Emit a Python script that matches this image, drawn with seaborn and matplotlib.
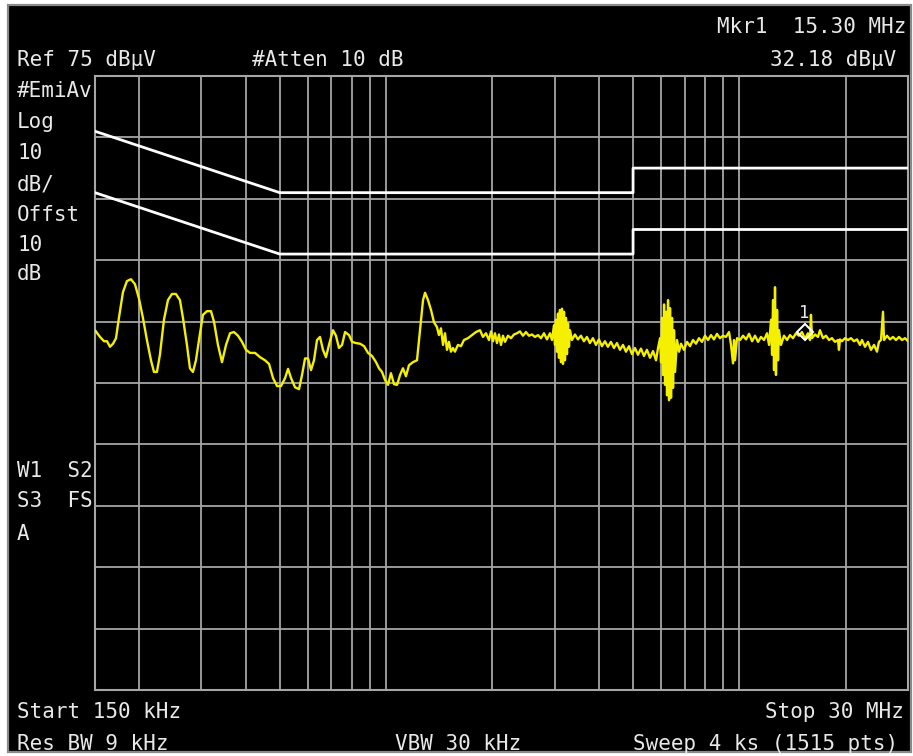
import matplotlib
matplotlib.use("Agg")
import matplotlib.pyplot as plt
import matplotlib.transforms as mtransforms
from matplotlib.patches import Rectangle
import numpy as np
import pandas as pd
import seaborn as sns

# ---------------- data ----------------
trace_freq_mhz = [
    0.150, 0.1550, 0.1591, 0.1622, 0.1654, 0.1687, 0.1720, 0.1753, 0.1800, 0.1847,
    0.1896, 0.1946, 0.1997, 0.2050, 0.2104, 0.2160, 0.2203, 0.2246, 0.2290, 0.2351,
    0.2413, 0.2477, 0.2542, 0.2609, 0.2661, 0.2731, 0.2785, 0.2840, 0.2896, 0.2954,
    0.3031, 0.3112, 0.3194, 0.3257, 0.3343, 0.3432, 0.3523, 0.3616, 0.3711, 0.3809,
    0.3910, 0.4013, 0.4119, 0.4257, 0.4398, 0.4543, 0.4663, 0.4786, 0.4913, 0.5042,
    0.5176, 0.5278, 0.5382, 0.5524, 0.5669, 0.5781, 0.5896, 0.6012, 0.6130, 0.6251,
    0.6375, 0.6499, 0.6627, 0.6758, 0.6891, 0.7074, 0.7213, 0.7356, 0.7505, 0.7653,
    0.7855, 0.8010, 0.8222, 0.8438, 0.8661, 0.8889, 0.9124, 0.9363, 0.9548, 0.9736,
    0.9929, 1.0125, 1.032, 1.053, 1.074, 1.095, 1.116, 1.138, 1.161, 1.192,
    1.223, 1.247, 1.272, 1.289, 1.314, 1.340, 1.366,
    1.393, 1.411, 1.430, 1.449, 1.468, 1.487, 1.506, 1.526, 1.546, 1.566,
    1.597, 1.629, 1.661, 1.705, 1.750, 1.796, 1.844, 1.880, 1.917, 1.955,
    1.981, 2.007, 2.033, 2.060, 2.087, 2.114, 2.142, 2.170, 2.213, 2.256,
    2.301, 2.346, 2.393, 2.440, 2.488, 2.537, 2.588, 2.639, 2.691, 2.744,
    2.798, 2.853, 2.909, 2.948, 2.986, 3.006, 3.025, 3.045, 3.065, 3.085,
    3.105, 3.126, 3.146, 3.167, 3.188, 3.208, 3.229, 3.250, 3.272, 3.293,
    3.315, 3.358, 3.424, 3.491, 3.560, 3.630, 3.702, 3.774, 3.849, 3.925,
    4.003, 4.082, 4.162, 4.244, 4.328, 4.414, 4.502, 4.591, 4.682, 4.774,
    4.868, 4.964, 5.062, 5.162, 5.264, 5.368, 5.474, 5.585, 5.695, 5.807, 5.884,
    5.961, 6.000, 6.039, 6.079, 6.119, 6.159, 6.199, 6.239, 6.280, 6.321,
    6.362, 6.404, 6.446, 6.488, 6.530, 6.573, 6.659, 6.747, 6.835, 6.968,
    7.106, 7.246, 7.389, 7.534, 7.683, 7.835, 7.990, 8.147, 8.308, 8.471,
    8.638, 8.808, 8.982, 9.160, 9.345, 9.467, 9.592, 9.654, 9.717, 9.845,
    10.04, 10.24, 10.44, 10.65, 10.86, 11.07, 11.29, 11.51, 11.74, 11.97,
    12.13, 12.29, 12.37, 12.45, 12.53, 12.61, 12.69, 12.78, 12.86, 12.94,
    13.11, 13.37, 13.64, 13.90, 14.18, 14.46, 14.74, 15.03, 15.33, 15.63,
    15.84, 15.94, 16.05, 16.36, 16.69, 16.90, 17.24, 17.58, 17.93, 18.28,
    18.64, 19.01, 19.13, 19.26, 19.51, 19.90, 20.29, 20.69, 21.10, 21.51,
    21.94, 22.23, 22.67, 23.11, 23.57, 24.04, 24.51, 24.83, 25.16, 25.49,
    25.66, 26.16, 26.68, 27.21, 27.74, 28.29, 28.85, 29.42, 30.00,
]
trace_dbuv = [
    33.6, 32.5, 31.8, 31.8, 30.9, 31.4, 32.3, 35.6, 39.8, 41.6,
    41.9, 41.1, 38.8, 35.6, 32.0, 28.7, 26.8, 26.8, 29.6, 35.3,
    38.5, 39.5, 39.5, 38.5, 35.6, 31.2, 27.4, 26.8, 28.7, 32.0,
    36.1, 36.7, 36.7, 35.0, 31.2, 28.4, 31.2, 33.1, 33.3, 32.7,
    31.7, 30.4, 29.9, 29.9, 29.2, 28.7, 28.1, 25.8, 24.5, 24.5,
    25.8, 27.3, 25.8, 24.3, 24.0, 26.3, 29.0, 29.0, 27.1, 28.7,
    32.0, 32.5, 30.4, 29.2, 31.2, 33.6, 32.7, 30.7, 31.2, 33.3,
    32.8, 31.7, 31.5, 31.4, 31.0, 29.9, 29.4, 28.4, 27.4, 26.8,
    25.5, 24.7, 26.6, 24.8, 24.7, 26.3, 27.4, 26.1, 27.9, 28.4,
    28.7, 33.6, 38.5, 39.7, 38.5, 36.9, 34.9,
    34.1, 32.8, 33.9, 31.2, 33.1, 30.4, 31.7, 30.1, 30.7, 30.1,
    31.2, 31.0, 32.0, 32.3, 32.8, 33.3, 33.6, 32.5, 33.1, 32.0,
    33.4, 31.8, 33.1, 31.5, 32.9, 31.2, 32.7, 31.7, 32.7, 32.3,
    32.9, 33.1, 33.4, 32.7, 33.3, 32.7, 32.9, 32.5, 32.8, 32.3,
    33.1, 32.1, 33.1, 32.0, 34.4, 31.2, 35.3, 30.1, 36.3, 29.1,
    36.9, 28.4, 37.1, 28.1, 36.6, 28.7, 35.6, 29.7, 34.7, 30.9,
    33.6, 32.0, 32.9, 32.1, 32.7, 31.8, 32.5, 31.5, 32.3, 31.2,
    32.1, 31.0, 31.8, 30.9, 31.7, 30.7, 31.5, 30.4, 31.2, 30.1,
    31.0, 29.7, 30.7, 29.6, 30.6, 29.4, 30.4, 29.1, 30.2, 28.7, 30.7,
    32.3, 28.4, 35.6, 26.3, 37.8, 24.7, 36.6, 23.0, 38.5, 22.2,
    37.2, 22.6, 35.6, 24.2, 33.6, 26.8, 32.0, 30.1, 31.4, 30.4,
    31.7, 31.0, 32.0, 31.4, 32.3, 31.7, 32.7, 32.0, 32.8, 32.1,
    33.0, 32.3, 32.7, 32.5, 33.3, 31.2, 28.2, 32.0, 28.7, 32.3,
    32.0, 32.7, 32.1, 33.0, 31.8, 32.7, 31.7, 32.5, 32.0, 33.1,
    31.2, 35.3, 29.6, 38.5, 27.1, 40.6, 26.3, 36.9, 28.7, 33.6,
    31.2, 32.7, 32.0, 32.8, 32.3, 33.1, 32.7, 33.3, 32.2, 33.1,
    32.0, 36.1, 32.3, 32.9, 32.5, 33.6, 32.3, 32.7, 32.0, 32.3,
    31.7, 32.0, 30.4, 32.1, 31.8, 32.3, 32.0, 32.3, 31.8, 32.1,
    31.2, 32.0, 30.9, 31.7, 30.4, 31.2, 30.1, 31.7, 32.0, 36.6,
    32.0, 32.7, 32.1, 32.5, 32.0, 32.5, 32.0, 32.3, 31.8,
]

# CISPR limit lines (quasi-peak and average)
limit_freq_mhz = [0.15, 0.5, 5.0, 5.0, 30.0]
limit_qp_dbuv = [66, 56, 56, 60, 60]
limit_avg_dbuv = [56, 46, 46, 50, 50]

marker_freq_mhz = 15.30
marker_dbuv = 32.18

ref_level = 75
db_per_div = 10
n_div = 10
start_mhz, stop_mhz = 0.15, 30.0

# ---------------- figure ----------------
sns.set_style("dark", {"axes.facecolor": "black", "figure.facecolor": "white"})
plt.rcParams["font.family"] = ["DejaVu Sans Mono", "DejaVu Sans"]

W, H = 913, 756
fig = plt.figure(figsize=(W / 100, H / 100), dpi=100)

# instrument screen
fig.patches.append(Rectangle((8 / W, 1 - 752 / H), (911 - 8) / W, (752 - 5) / H,
                             transform=fig.transFigure, facecolor="black",
                             edgecolor="#8a8a8a", linewidth=1.6, zorder=-5))

ax = fig.add_axes([95 / W, 1 - 690 / H, (908 - 95) / W, (690 - 76) / H])
ax.set_zorder(2)
ax.set_facecolor("black")

grid_c = "#a6a6a6"
trace_df = pd.DataFrame({"freq": trace_freq_mhz, "level": trace_dbuv})
lim_df = pd.DataFrame({"freq": limit_freq_mhz * 2,
                       "level": limit_qp_dbuv + limit_avg_dbuv,
                       "limit": ["QP"] * 5 + ["AV"] * 5})

sns.lineplot(data=lim_df, x="freq", y="level", units="limit", estimator=None,
             sort=False, color="white", linewidth=2.0, ax=ax, zorder=3)
sns.lineplot(data=trace_df, x="freq", y="level", estimator=None, sort=False,
             color="#f4f000", linewidth=1.7, ax=ax, zorder=4)

ax.set_xscale("log")
ax.set_xlim(start_mhz, stop_mhz)
ax.set_ylim(ref_level - n_div * db_per_div, ref_level)
ax.set_yticks(np.arange(ref_level - (n_div - 1) * db_per_div, ref_level, db_per_div))
ax.xaxis.set_major_locator(matplotlib.ticker.LogLocator(base=10, numticks=10))
ax.xaxis.set_minor_locator(matplotlib.ticker.LogLocator(base=10, subs=np.arange(2, 10), numticks=20))
ax.grid(True, which="both", axis="x", color=grid_c, linewidth=1.3)
ax.grid(True, which="major", axis="y", color=grid_c, linewidth=1.3)
ax.set_axisbelow(True)
ax.tick_params(which="both", length=0, labelbottom=False, labelleft=False)
ax.set_xlabel("")
ax.set_ylabel("")
for s in ax.spines.values():
    s.set_visible(True)
    s.set_color(grid_c)
    s.set_linewidth(1.5)

# marker 1
off = mtransforms.ScaledTranslation(0, 7 / 100, fig.dpi_scale_trans)
ax.plot([marker_freq_mhz], [marker_dbuv], marker="D", markersize=8,
        markerfacecolor="none", markeredgecolor="white", markeredgewidth=1.5,
        transform=ax.transData + off, zorder=5, clip_on=False)
ax.annotate("1", (marker_freq_mhz, marker_dbuv), xytext=(0, 19),
            textcoords="offset points", ha="center", va="center",
            color="#e8e8e8", fontsize=12.5, zorder=6)

# ---------------- annotation texts ----------------
tc = "#e8e8e8"
fs = 15


def put(x, y, s, ha="left"):
    fig.text(x / W, 1 - y / H, s, ha=ha, va="baseline", color=tc, fontsize=fs)


put(17, 66, "Ref 75 dBµV")
put(252, 66, "#Atten 10 dB")
put(906, 33, "Mkr1  15.30 MHz", ha="right")
put(896, 66, "32.18 dBµV", ha="right")

left_lines = ["#EmiAv", "Log", "10", "dB/", "Offst", "10", "dB"]
left_base = [97, 128, 159, 190, 221, 251, 280]
for s, yb in zip(left_lines, left_base):
    put(17, yb, s)

put(17, 477, "W1  S2")
put(17, 507, "S3  FS")
put(17, 540, "A")

put(17, 718, "Start 150 kHz")
put(904, 718, "Stop 30 MHz", ha="right")
put(17, 750, "Res BW 9 kHz")
put(395, 750, "VBW 30 kHz")
put(898, 750, "Sweep 4 ks (1515 pts)", ha="right")

fig.savefig("out.png", dpi=100, facecolor="white")
